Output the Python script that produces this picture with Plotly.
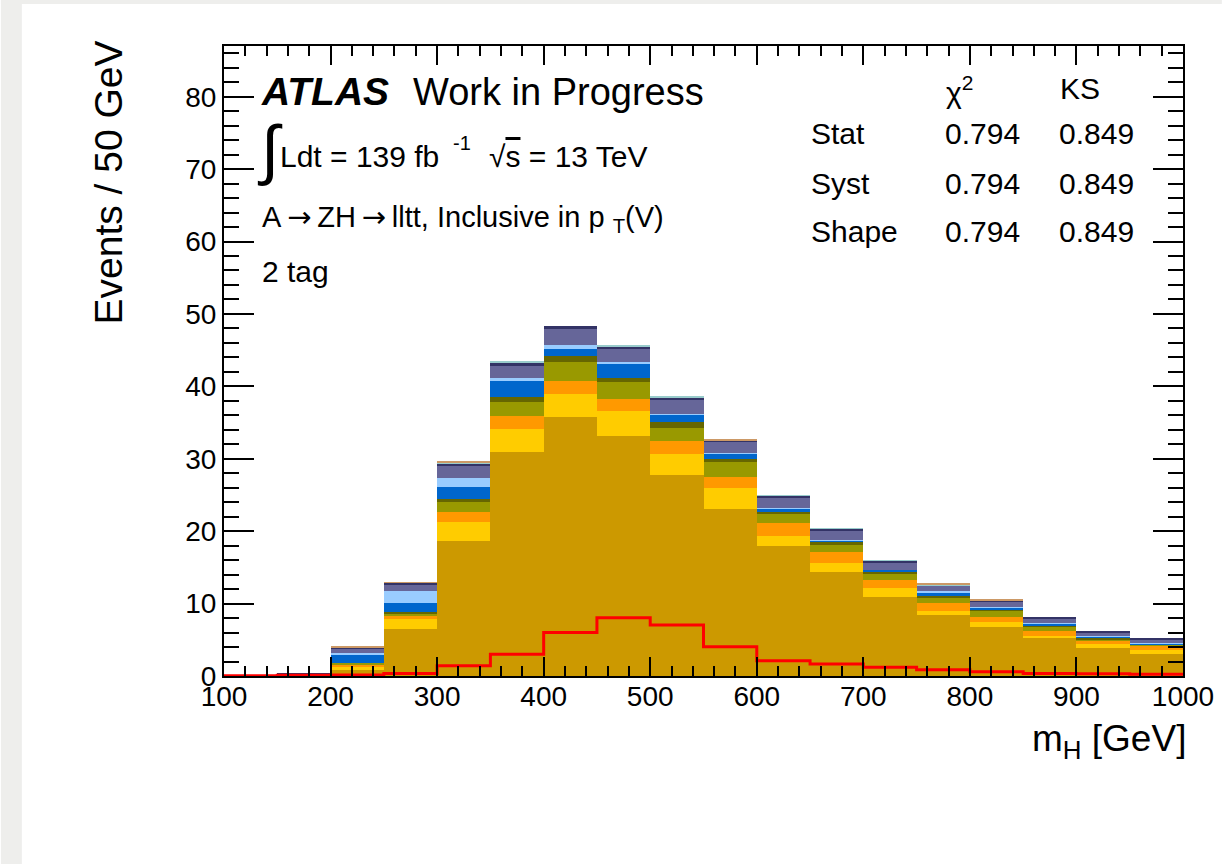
import plotly.graph_objects as go

# m_H binning (lower edges, 50 GeV bins) and upper edge of the last bin
bin_low = [100, 150, 200, 250, 300, 350, 400, 450, 500, 550,
           600, 650, 700, 750, 800, 850, 900, 950]
x_max = 1000
bin_width = 50

# Stacked background components (events per bin), bottom to top
bkg_gold = [0, 0, 0.85, 6.5, 18.6, 30.9, 35.8, 33.1, 27.7, 23.1, 17.9, 14.4, 10.95, 8.4, 6.7, 5.2, 3.8, 3.0]
bkg_yellow = [0, 0, 0.45, 1.35, 2.7, 3.2, 3.2, 3.5, 3.0, 2.9, 1.4, 1.25, 1.15, 0.6, 0.8, 0.35, 0.65, 0.55]
bkg_orange = [0, 0, 0.3, 0.45, 1.3, 1.8, 1.8, 1.7, 1.8, 1.5, 1.8, 1.45, 1.1, 1.15, 0.7, 0.65, 0.35, 0.55]
bkg_olive = [0, 0, 0.25, 0.35, 1.4, 1.9, 2.5, 2.3, 1.8, 2.0, 1.3, 1.1, 0.9, 0.7, 0.8, 0.6, 0.3, 0.3]
bkg_dkolive = [0, 0, 0.0, 0.25, 0.5, 0.7, 0.9, 0.6, 0.8, 0.45, 0.3, 0.25, 0.25, 0.25, 0.2, 0.15, 0.2, 0.0]
bkg_blue = [0, 0, 1.1, 1.15, 1.6, 2.3, 1.0, 1.95, 1.05, 0.8, 0.4, 0.3, 0.3, 0.3, 0.25, 0.3, 0.2, 0.1]
bkg_ltblue = [0, 0, 0.25, 1.75, 1.3, 0.3, 0.45, 0.2, 0.1, 0.1, 0.15, 0.05, 0.05, 0.35, 0.05, 0.05, 0.05, 0.05]
bkg_slate = [0, 0.3, 0.6, 0.75, 1.6, 1.7, 2.3, 1.85, 1.9, 1.4, 1.4, 1.3, 1.0, 0.7, 0.8, 0.65, 0.45, 0.5]
bkg_navy = [0, 0.05, 0.1, 0.35, 0.4, 0.45, 0.35, 0.3, 0.25, 0.3, 0.25, 0.25, 0.25, 0.1, 0.1, 0.1, 0.1, 0.1]
bkg_cyan = [0, 0, 0, 0, 0.1, 0.15, 0, 0.15, 0.15, 0, 0.05, 0.05, 0.05, 0.05, 0, 0, 0, 0]
bkg_brown = [0, 0, 0.15, 0.05, 0.1, 0, 0, 0, 0, 0.15, 0, 0, 0, 0.15, 0.15, 0, 0, 0]

# Signal A->ZH->lltt
signal = [0.05, 0.1, 0.15, 0.35, 1.4, 3.0, 6.0, 8.05, 7.05, 4.05, 2.1, 1.65, 1.2, 0.85, 0.6, 0.35, 0.3, 0.25]

components = [
    (bkg_gold, "#cc9900"),
    (bkg_yellow, "#ffcc00"),
    (bkg_orange, "#ff9900"),
    (bkg_olive, "#999900"),
    (bkg_dkolive, "#666600"),
    (bkg_blue, "#0066cc"),
    (bkg_ltblue, "#99ccff"),
    (bkg_slate, "#666699"),
    (bkg_navy, "#333366"),
    (bkg_cyan, "#99cccc"),
    (bkg_brown, "#cc9966"),
]

W, H = 1226, 864
L, R, T, B = 224, 1187, 46, 676  # plot frame in pixels


def px(xp):
    return (xp - L) / (R - L)


def py(yp):
    return (B - yp) / (B - T)


FONT = "Liberation Sans, Arial, Helvetica, sans-serif"
ARROW = "\u2009<span style='font-family:DejaVu Sans'>→</span>\u2009"

fig = go.Figure()
centers = [lo + bin_width / 2 for lo in bin_low]
for vals, col in components:
    fig.add_trace(go.Bar(
        x=centers, y=vals, width=bin_width,
        marker=dict(color=col, line=dict(width=0)),
        showlegend=False, hoverinfo="skip",
    ))

edges = bin_low + [x_max]
fig.add_trace(go.Scatter(
    x=edges, y=signal + [signal[-1]], mode="lines",
    line=dict(color="#ff0000", width=3, shape="hv"),
    showlegend=False, hoverinfo="skip",
))

axis_common = dict(
    showline=True, linecolor="black", linewidth=2, mirror="ticks",
    ticks="inside", tickcolor="black", tickwidth=2,
    showgrid=False, zeroline=False,
    tickfont=dict(family=FONT, size=28, color="black"),
)

fig.update_layout(
    width=W, height=H, autosize=False,
    margin=dict(l=L, r=W - R, t=T, b=H - B, pad=0),
    paper_bgcolor="white", plot_bgcolor="white",
    barmode="stack", bargap=0, showlegend=False,
    xaxis=dict(range=[100, 1000], tickvals=[100, 200, 300, 400, 500, 600, 700, 800, 900, 1000],
               ticklen=19, ticklabelstandoff=-6,
               minor=dict(dtick=20, ticklen=10, ticks="inside", tickcolor="black", tickwidth=2),
               **axis_common),
    yaxis=dict(range=[0, 87], tickvals=[0, 10, 20, 30, 40, 50, 60, 70, 80],
               ticklen=30,
               minor=dict(dtick=2, ticklen=15, ticks="inside", tickcolor="black", tickwidth=2),
               **axis_common),
)

# light grey page edge on the left and top
gray = "#eeeeec"
fig.add_shape(type="rect", xref="paper", yref="paper", x0=px(0), x1=px(21), y0=py(H), y1=py(0),
              fillcolor=gray, line=dict(width=0), layer="below")
fig.add_shape(type="rect", xref="paper", yref="paper", x0=px(0), x1=px(W), y0=py(4), y1=py(0),
              fillcolor=gray, line=dict(width=0), layer="below")


def label(text, x, y, size=30, xanchor="left", yanchor="middle", angle=0):
    fig.add_annotation(text=text, xref="paper", yref="paper", x=px(x), y=py(y),
                       xanchor=xanchor, yanchor=yanchor, showarrow=False, textangle=angle,
                       font=dict(family=FONT, size=size, color="black"))


label("<b><i>ATLAS</i></b>", 259, 92, size=39)
label("Work in Progress", 412, 92, size=38)
label("∫", 255, 149, size=66)
label("Ldt = 139 fb", 278, 156)
label("-1", 452, 143, size=20)
label("√<span style='text-decoration:overline'>s</span> = 13 TeV", 488, 156)
label("A" + ARROW + "ZH" + ARROW + "lltt, Inclusive in p <sub>T</sub>(V)", 260, 218, size=29)
label("2 tag", 260, 271)

label("χ<sup>2</sup>", 947, 90)
label("KS", 1061, 88)
for row, yy in zip(["Stat", "Syst", "Shape"], [134, 183, 232]):
    label(row, 811, yy)
    label("0.794", 946, yy)
    label("0.849", 1060, yy)

# axis titles
label("m<sub>H</sub> [GeV]", 1192, 741, size=37, xanchor="right")
label("Events / 50 GeV", 108, 38, size=39, xanchor="center", yanchor="top", angle=-90)

fig.write_html("out.html")
